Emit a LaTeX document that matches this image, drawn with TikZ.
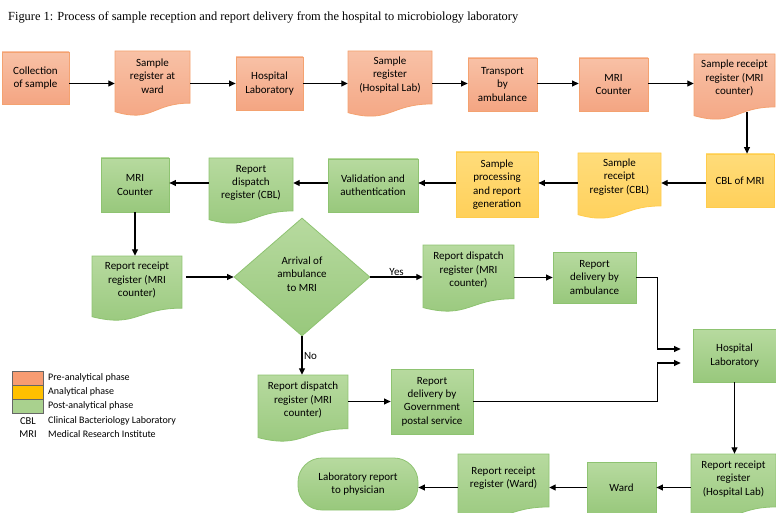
\documentclass[tikz,border=0pt]{standalone}
\usepackage{fontspec}
\setmainfont{Carlito}
\newfontfamily\titlefont{Liberation Serif}
\usetikzlibrary{arrows.meta,shapes.geometric,calc}
\definecolor{orTop}{HTML}{F8C1A6}
\definecolor{orBot}{HTML}{F4A582}
\definecolor{orLine}{HTML}{F4A270}
\definecolor{yeTop}{HTML}{FFDC7A}
\definecolor{yeBot}{HTML}{FFD05A}
\definecolor{yeLine}{HTML}{FFCC4D}
\definecolor{grTop}{HTML}{B7DA9F}
\definecolor{grBot}{HTML}{98C87C}
\definecolor{grLine}{HTML}{8EC371}
\definecolor{legOr}{HTML}{F79C72}
\definecolor{legYe}{HTML}{FFC000}
\definecolor{legGr}{HTML}{A9D18E}
\tikzset{
  box/.style={draw, line width=0.8pt, inner sep=0pt},
  preph/.style={draw=orLine, top color=orTop, bottom color=orBot},
  anaph/.style={draw=yeLine, top color=yeTop, bottom color=yeBot},
  postph/.style={draw=grLine, top color=grTop, bottom color=grBot},
  txt/.style={align=center, font=\fontsize{11}{13.3}\selectfont, inner sep=0pt},
  legtxt/.style={anchor=west, font=\fontsize{10}{11}\selectfont, inner sep=0pt},
  arr/.style={line width=1.1pt, -{Triangle[length=6.5pt,width=6pt]}},
}
\newcommand\docnode[8]{%
  \node[inner sep=0pt,minimum width=#5pt,minimum height=#6pt] (#2) at (#3,#4) {};
  \path[draw, line width=0.8pt, #1] ({#3-#5/2},{#4-#6/2}) -- ({#3+#5/2},{#4-#6/2})
    -- ({#3+#5/2},{#4-#6/2+0.802*#6})
    .. controls ({#3},{#4-#6/2+0.802*#6}) and ({#3},{#4-#6/2+1.107*#6}) ..
    ({#3-#5/2},{#4-#6/2+0.934*#6}) -- cycle;
  \node[txt] (#2-t) at (#3,{#4+#8}) {#7};
}
\begin{document}
\begin{tikzpicture}[x=1pt,y=-1pt]
\useasboundingbox (0,0) rectangle (776,513);
\clip (0,0) rectangle (776,513);
% title
\node[anchor=base west, font=\titlefont\fontsize{12.4}{14}\selectfont, inner sep=0pt] (title) at (8,21)
  {Figure 1: Process of sample reception and report delivery from the hospital to microbiology laboratory};
% row 1
\node[box,preph,txt,minimum width=67pt,minimum height=52pt] (coll) at (35.5,78) {Collection\\of sample};
\docnode{preph}{srw}{152.5}{83.5}{75}{65}{Sample\\register at\\ward}{-7.5}
\node[box,preph,txt,minimum width=67pt,minimum height=53pt] (hl1) at (269.5,83.5) {Hospital\\Laboratory};
\docnode{preph}{srhl}{390}{84}{84}{66}{Sample\\register\\(Hospital Lab)}{-9}
\node[box,preph,txt,minimum width=69pt,minimum height=53pt] (tba) at (502.5,84.5) {Transport\\by\\ambulance};
\node[box,preph,txt,minimum width=69pt,minimum height=53pt] (mri1) at (613.5,84.5) {MRI\\Counter};
\docnode{preph}{srmri}{734.5}{87}{81}{66}{Sample receipt\\register (MRI\\counter)}{-9}
% row 2
\node[box,anaph,txt,minimum width=68pt,minimum height=53pt] (cblmri) at (740,180.5) {CBL of MRI};
\docnode{anaph}{srcbl}{619.5}{186}{83}{66}{Sample\\receipt\\register (CBL)}{-9}
\node[box,anaph,txt,minimum width=82pt,minimum height=65pt] (proc) at (497,184.5) {Sample\\processing\\and report\\generation};
\node[box,postph,txt,minimum width=90pt,minimum height=53pt] (val) at (373,185.5) {Validation and\\authentication};
\docnode{postph}{rdcbl}{251}{191}{84}{66}{Report\\dispatch\\register (CBL)}{-8}
\node[box,postph,txt,minimum width=68pt,minimum height=54pt] (mri2) at (135,185) {MRI\\Counter};
% row 3
\docnode{postph}{rrmri}{137}{288.5}{90}{65}{Report receipt\\register (MRI\\counter)}{-8.5}
\node[diamond,box,postph,minimum width=136pt,minimum height=118pt] (dia) at (302,277) {};
\node[txt] (dia-t) at (302,274) {Arrival of\\ambulance\\to MRI};
\docnode{postph}{rdu}{468.5}{278.5}{91}{67}{Report dispatch\\register (MRI\\counter)}{-8.5}
\node[box,postph,txt,minimum width=83pt,minimum height=51pt] (rda) at (594.5,277.5) {Report\\delivery by\\ambulance};
\node[box,postph,txt,minimum width=83pt,minimum height=53pt] (hl2) at (734.5,355.5) {Hospital\\Laboratory};
\docnode{postph}{rdl}{303}{408.5}{90}{67}{Report dispatch\\register (MRI\\counter)}{-8.5}
\node[box,postph,txt,minimum width=82pt,minimum height=65pt] (gov) at (432,401.5) {Report\\delivery by\\Government\\postal service};
% row 4
\docnode{postph}{rrhl}{733.5}{487}{85}{66}{Report receipt\\register\\(Hospital Lab)}{-8}
\node[box,postph,txt,minimum width=69pt,minimum height=52pt] (ward) at (621.5,488) {Ward};
\docnode{postph}{rrw}{503.5}{487}{91}{66}{Report receipt\\register (Ward)}{-8.5}
\node[box,postph,txt,rounded corners=24pt,minimum width=120pt,minimum height=52pt] (lab) at (358,484) {Laboratory report\\to physician};
% legend
\node[draw=black!60, line width=0.5pt, fill=legOr, minimum width=31pt, minimum height=14pt, inner sep=0pt] (lg1) at (27.5,378) {};
\node[draw=black!60, line width=0.5pt, fill=legYe, minimum width=31pt, minimum height=14pt, inner sep=0pt] (lg2) at (27.5,392) {};
\node[draw=black!60, line width=0.5pt, fill=legGr, minimum width=31pt, minimum height=14pt, inner sep=0pt] (lg3) at (27.5,406) {};
\node[legtxt] (lt1) at (48,378) {Pre-analytical phase};
\node[legtxt] (lt2) at (48,392) {Analytical phase};
\node[legtxt] (lt3) at (48,406) {Post-analytical phase};
\node[legtxt] (lt4) at (48,421) {Clinical Bacteriology Laboratory};
\node[legtxt] (lt5) at (48,434) {Medical Research Institute};
\node[legtxt, anchor=center, font=\fontsize{10.5}{11}\selectfont] (la4) at (28,421) {CBL};
\node[legtxt, anchor=center, font=\fontsize{10.5}{11}\selectfont] (la5) at (28,434) {MRI};
% connectors
\coordinate (r1) at (0,83.5);
\draw[arr] (coll.east |- r1) -- (srw.west |- r1);
\draw[arr] (srw.east |- r1) -- (hl1.west |- r1);
\draw[arr] (hl1.east |- r1) -- (srhl.west |- r1);
\draw[arr] (srhl.east |- r1) -- (tba.west |- r1);
\draw[arr] (tba.east |- r1) -- (mri1.west |- r1);
\draw[arr] (mri1.east |- r1) -- (srmri.west |- r1);
\coordinate (srmrib) at (747,112);
\draw[arr] (srmrib) -- (srmrib |- cblmri.north);
\coordinate (r2) at (0,183);
\draw[arr] (cblmri.west |- r2) -- (srcbl.east |- r2);
\draw[arr] (srcbl.west |- r2) -- (proc.east |- r2);
\draw[arr] (proc.west |- r2) -- (val.east |- r2);
\draw[arr] (val.west |- r2) -- (rdcbl.east |- r2);
\draw[arr] (rdcbl.west |- r2) -- (mri2.east |- r2);
\draw[arr] (mri2.south) -- (mri2.south |- rrmri.north);
\draw[arr] ([xshift=4pt]rrmri.east |- dia.west) -- (dia.west);
\draw[arr] (dia.east) -- (dia.east -| rdu.west)
  node[midway, anchor=south, inner sep=0.5pt, font=\fontsize{11}{13}\selectfont] (yes) {Yes};
\draw[arr] (rdu.east |- rda.west) -- (rda.west);
\draw[arr, shorten >=12pt] (rda.east) -- ++(21,0) |- ([yshift=6.5pt]hl2.west);
\draw[arr] (dia.south) -- (dia.south |- rdl.north)
  node[midway, anchor=west, inner sep=1.5pt, font=\fontsize{11}{13}\selectfont] (no) {No};
\draw[arr] (rdl.east |- gov.west) -- (gov.west);
\draw[arr, shorten >=12pt] (gov.east) -- ++(184,0) |- ([yshift=-7.5pt]hl2.west);
\draw[arr] (hl2.south) -- (hl2.south |- rrhl.north);
\coordinate (r4) at (0,487.5);
\draw[arr] (rrhl.west |- r4) -- (ward.east |- r4);
\draw[arr] (ward.west |- r4) -- (rrw.east |- r4);
\draw[arr] (rrw.west |- r4) -- (lab.east |- r4);
\end{tikzpicture}
\end{document}
